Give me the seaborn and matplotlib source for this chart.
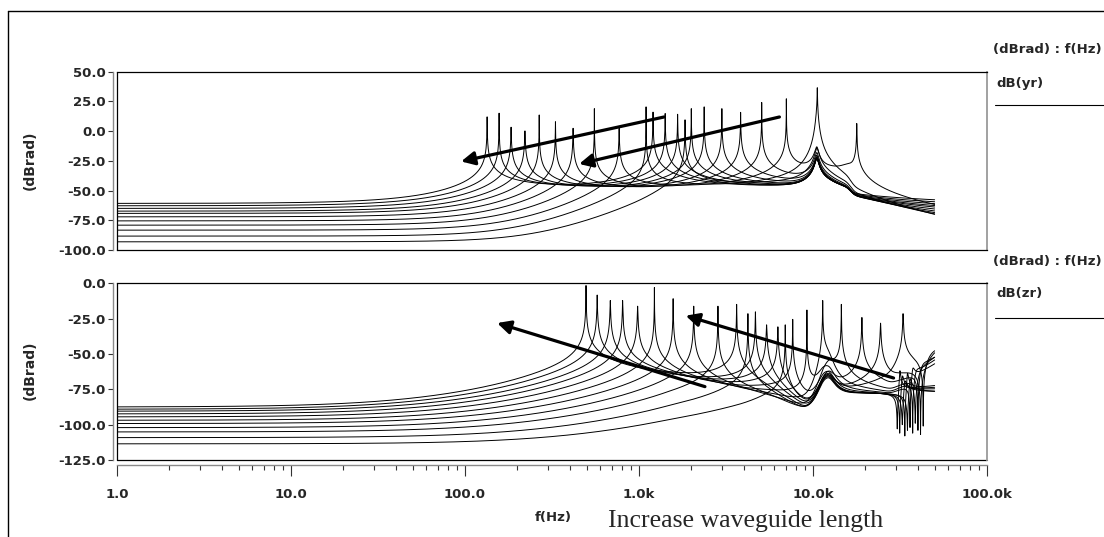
import numpy as np
import pandas as pd
import matplotlib
matplotlib.use("Agg")
import matplotlib.pyplot as plt
from matplotlib.lines import Line2D
from matplotlib.ticker import LogLocator, NullFormatter
import seaborn as sns

# ---------------- values ----------------
x_ticks = [1, 10, 100, 1000, 10000, 100000]
x_tick_labels = ["1.0", "10.0", "100.0", "1.0k", "10.0k", "100.0k"]
yr_ticks = [50, 25, 0, -25, -50, -75, -100]
zr_ticks = [0, -25, -50, -75, -100, -125]

# dB(yr): one curve per waveguide length (longest first)
yr_low_db = [-60.7, -62.7, -64.9, -67.2, -69.1, -72.0, -75.4, -79.0, -83.2, -88.2, -93.0]
yr_mode1_hz = [134, 157, 184, 221, 267, 331, 418, 554, 769, 1098, 1839]
yr_mode1_db = [12.0, 15.1, 3.3, 0.2, 13.6, 7.9, 2.4, 18.9, 2.4, 20.4, 9.5]
yr_mode2_hz = [1204, 1414, 1667, 1998, 2369, 2994, 3837, 5072, 7028, 10585, 17840]
yr_mode2_db = [16.0, 14.8, 14.2, 18.9, 20.4, 18.9, 15.8, 24.1, 27.2, 36.5, 6.4]
yr_end_db = [-69, -70, -70.5, -71, -71.5, -72, -72.5, -73, -73.5, -74, -67]
yr_bg_hz = [300, 1000, 8000, 12500, 16000, 17000]
yr_bg_db = [-58, -56, -49, -47, -50, -58]
yr_bump_hz, yr_bump_rise_db = 10500, 22

# dB(zr)
zr_low_db = [-83.8, -85.4, -86.8, -88.7, -90.8, -93.2, -95.5, -98.3, -101.4, -105.0, -109.6]
zr_mode1_hz = [496, 575, 684, 805, 982, 1226, 1571, 2063, 2843, 4226, 6926]
zr_mode1_db = [-1.6, -8.3, -12.2, -12.2, -16.2, -3.0, -10.9, -16.2, -16.2, -21.5, -29.4]
zr_mode2_hz = [3640, 4667, 5411, 6283, 7646, 9226, 11370, 14550, 19100, 24450, 32920]
zr_mode2_db = [-14.9, -20.2, -29.4, -30.8, -25.5, -18.9, -12.2, -14.9, -24.2, -28.2, -21.5]
zr_hf_dip_hz = [30500, 31500, 32600, 33700, 34900, 36100, 37400, 38700, 40100, 41500, 43000]
zr_hf_dip_db = [-103, -106, -100, -108, -104, -102, -106, -99, -104, -107, -101]
zr_hf_peak_db = [-62, -66, -70, -64, -68, -61, -65, -69, -63, -67, -60]
zr_end_db = [-80, -78, -82, -76, -81, -60, -58, -57, -59, -56, -60]
zr_bg_hz = [500, 1500, 4000, 7000, 14000, 28000]
zr_bg_db = [-62, -70, -80, -84, -84, -83]
zr_dip_hz, zr_dip_depth_db = 9000, 12
zr_bump_hz = [11100, 12100]
zr_bump_rise_db = [7, 8]

# arrows (tail Hz, tail dB, head Hz, head dB)
yr_arrows = [(1393, 11.9, 95, -25.5), (6412, 11.9, 453, -27.6)]
zr_arrows = [(2393, -73.1, 153, -28.1), (29050, -67.0, 1855, -22.9)]

F_MAX = 50000.0


# ---------------- response model ----------------
def soft_pw(lf, kx, ky, w=0.012):
    kx = np.asarray(kx, float)
    ky = np.asarray(ky, float)
    s = np.diff(ky) / np.diff(kx)
    y = ky[0] + s[0] * (lf - kx[0])
    for k in range(1, len(s)):
        y = y + (s[k] - s[k - 1]) * w * np.logaddexp(0.0, (lf - kx[k]) / w)
    return y


def cusp_db(lf, f0, eta, p):
    r = 10.0 ** (p * (lf - np.log10(f0)))
    return 20 * np.log10(np.abs((1 + r) / (1 - r + 1j * eta)))


def response(lf, low_db, kx, ky, f_c, feats, R=40.0, w2=0.15):
    """feats: (f0, value, p, sign, kind) ; kind 'abs' -> value is the level reached,
    'rel' -> value is the excursion in dB."""
    def base(x):
        env = soft_pw(x, kx, ky)
        rise = env - R * w2 * np.logaddexp(0.0, (np.log10(f_c) - x) / w2)
        return 20 * np.log10(10 ** (low_db / 20) + 10 ** (rise / 20))

    etas = [0.05] * len(feats)
    for _ in range(4):
        for k, (f0, val, p, sg, kind) in enumerate(feats):
            if kind == "rel":
                h = val
            else:
                x0 = np.log10(f0)
                y0 = base(x0)
                for j, (fj, vj, pj, sj, kj) in enumerate(feats):
                    if j != k:
                        y0 = y0 + sj * cusp_db(x0, fj, etas[j], pj)
                h = sg * (val - y0)
            h = max(h, 1.0)
            etas[k] = 2.0 / 10 ** (h / 20)
    y = base(lf)
    for (f0, val, p, sg, kind), e in zip(feats, etas):
        y = y + sg * cusp_db(lf, f0, e, p)
    return y


def grid(extra):
    lf = np.linspace(0.0, np.log10(F_MAX), 7000)
    return np.union1d(lf, np.log10(np.asarray(extra, float)))


P_MODE = 1.3

rows = []
for i in range(len(yr_low_db)):
    feats = [(yr_mode1_hz[i], yr_mode1_db[i], P_MODE, 1, "abs"),
             (yr_mode2_hz[i], yr_mode2_db[i], P_MODE, 1, "abs"),
             (yr_bump_hz, yr_bump_rise_db, 8.0, 1, "rel")]
    kx = list(np.log10(yr_bg_hz)) + [np.log10(F_MAX)]
    ky = list(yr_bg_db) + [yr_end_db[i]]
    lf = grid([yr_mode1_hz[i], yr_mode2_hz[i], yr_bump_hz])
    y = response(lf, yr_low_db[i], kx, ky, yr_mode1_hz[i], feats)
    rows.append(pd.DataFrame({"f": 10 ** lf, "db": y, "curve": i}))
df_yr = pd.concat(rows, ignore_index=True)

rows = []
for i in range(len(zr_low_db)):
    feats = [(zr_mode1_hz[i], zr_mode1_db[i], P_MODE, 1, "abs"),
             (zr_mode2_hz[i], zr_mode2_db[i], P_MODE, 1, "abs"),
             (zr_dip_hz, zr_dip_depth_db, 3.0, -1, "rel"),
             (zr_bump_hz[0], zr_bump_rise_db[0], 10.0, 1, "rel"),
             (zr_bump_hz[1], zr_bump_rise_db[1], 10.0, 1, "rel"),
             (zr_hf_dip_hz[i], zr_hf_dip_db[i], 2.0, -1, "abs"),
             (zr_hf_dip_hz[i] * 1.035, zr_hf_peak_db[i], 2.0, 1, "abs")]
    kx = list(np.log10(zr_bg_hz)) + [np.log10(F_MAX)]
    ky = list(zr_bg_db) + [zr_end_db[i]]
    lf = grid([f[0] for f in feats])
    y = response(lf, zr_low_db[i], kx, ky, zr_mode1_hz[i], feats)
    rows.append(pd.DataFrame({"f": 10 ** lf, "db": y, "curve": i}))
df_zr = pd.concat(rows, ignore_index=True)

# ---------------- figure ----------------
sns.set_theme(style="white")
plt.rcParams["font.family"] = ["DejaVu Sans"]

W, H = 1104, 537
fig = plt.figure(figsize=(W / 100, H / 100), dpi=100)
fig.patch.set_facecolor("white")


def fx(px):
    return px / W


def fy(py):
    return 1 - py / H


ax1 = fig.add_axes([fx(117), fy(250), fx(987) - fx(117), fy(71.7) - fy(250)])
ax2 = fig.add_axes([fx(117), fy(460), fx(987) - fx(117), fy(283.3) - fy(460)])

panels = [(ax1, df_yr, yr_ticks, (-100, 50), yr_arrows),
          (ax2, df_zr, zr_ticks, (-125, 0), zr_arrows)]

for ax, df, yt, ylim, arrows in panels:
    sns.lineplot(data=df, x="f", y="db", units="curve", estimator=None, sort=False,
                 color="black", linewidth=0.7, ax=ax, legend=False)
    ax.set_xscale("log")
    ax.set_xlim(1, 1e5)
    ax.set_ylim(*ylim)
    ax.set_xlabel("")
    ax.set_ylabel("")
    ax.set_facecolor("white")
    ax.spines["left"].set_position(("outward", 3))
    ax.spines["left"].set_color("#8a8a8a")
    ax.spines["left"].set_linewidth(1.0)
    ax.spines["top"].set_color("black")
    ax.spines["top"].set_linewidth(0.9)
    ax.spines["right"].set_color("#9a9a9a")
    ax.spines["right"].set_linewidth(1.3)
    ax.set_yticks(yt)
    ax.set_yticklabels([f"{v:.1f}" for v in yt], fontweight="bold", fontsize=9.5)
    ax.tick_params(axis="y", which="both", left=True, length=3.5, width=0.8,
                   color="#333333", pad=1.5)
    ax.plot([0, 0], [0, 1], transform=ax.transAxes, color="black", lw=0.9, clip_on=False)
    for tx, ty, hx, hy in arrows:
        ax.annotate("", xy=(hx, hy), xytext=(tx, ty),
                    arrowprops=dict(arrowstyle="-|>", lw=2.3, color="black",
                                    mutation_scale=20, shrinkA=0, shrinkB=0))

ax1.tick_params(axis="x", which="both", bottom=False, labelbottom=False)
ax1.spines["bottom"].set_color("black")
ax1.spines["bottom"].set_linewidth(0.9)

ax2.spines["bottom"].set_position(("outward", 3.5))
ax2.spines["bottom"].set_color("#8a8a8a")
ax2.spines["bottom"].set_linewidth(1.0)
ax2.plot([0, 1], [0, 0], transform=ax2.transAxes, color="black", lw=0.9, clip_on=False)
ax2.set_xticks(x_ticks)
ax2.set_xticklabels(x_tick_labels, fontweight="bold", fontsize=9.5)
ax2.xaxis.set_minor_locator(LogLocator(base=10, subs=np.arange(2, 10)))
ax2.xaxis.set_minor_formatter(NullFormatter())
ax2.tick_params(axis="x", which="major", bottom=True, length=8, width=0.8,
                color="#333333", pad=9)
ax2.tick_params(axis="x", which="minor", bottom=True, length=3.6, width=0.8,
                color="#333333")

# axis titles
fig.text(fx(30), fy(160), "(dBrad)", rotation=90, ha="center", va="center",
         fontweight="bold", fontsize=10)
fig.text(fx(30), fy(370), "(dBrad)", rotation=90, ha="center", va="center",
         fontweight="bold", fontsize=10)
fig.text(fx(553), fy(518), "f(Hz)", ha="center", va="center",
         fontweight="bold", fontsize=9.5)
fig.text(fx(608), fy(527), "Increase waveguide length", ha="left", va="baseline",
         family="Liberation Serif", fontsize=18.5)

# legend blocks on the right
for head_y, lab_y, line_y, lab in [(50, 83, 105, "dB(yr)"), (262, 293, 318, "dB(zr)")]:
    fig.text(fx(993), fy(head_y), "(dBrad) : f(Hz)", ha="left", va="center",
             fontweight="bold", fontsize=9.5)
    fig.text(fx(996), fy(lab_y), lab, ha="left", va="center",
             fontweight="bold", fontsize=9.5)
    fig.add_artist(Line2D([fx(995), 1.0], [fy(line_y), fy(line_y)], color="black", lw=0.8))

# outer frame (top and left edges)
fig.add_artist(Line2D([fx(8), fx(8)], [0, fy(10.7)], color="black", lw=1.0))
fig.add_artist(Line2D([fx(8), 1.0], [fy(10.7), fy(10.7)], color="black", lw=1.0))

fig.savefig("out.png", dpi=100, facecolor="white")
